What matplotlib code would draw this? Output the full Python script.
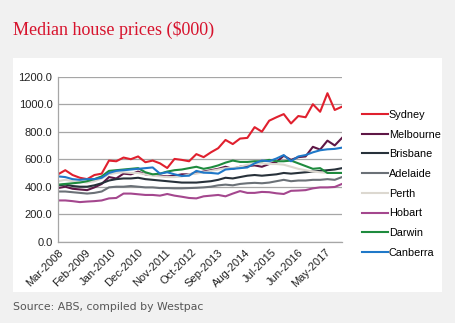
import numpy as np
import matplotlib.pyplot as plt
from matplotlib.patches import Rectangle
from matplotlib.transforms import ScaledTranslation

plt.rcParams['font.family'] = ['Liberation Sans', 'DejaVu Sans']

# quarterly data, Mar-2008 to Dec-2017 ($000)
sydney = [490, 520, 485, 465, 455, 485, 495, 590, 585, 612, 600, 620, 578, 590, 570, 536,
          602, 595, 585, 637, 615, 650, 680, 740, 710, 750, 755, 833, 800, 880, 905, 928,
          860, 914, 905, 1000, 945, 1080, 958, 982]
melbourne = [390, 400, 385, 380, 375, 395, 420, 470, 460, 495, 490, 510, 490, 485, 480, 475,
             480, 490, 490, 500, 510, 520, 530, 545, 530, 545, 550, 555, 545, 565, 580, 625,
             595, 615, 620, 690, 670, 735, 700, 755]
brisbane = [410, 415, 405, 400, 400, 410, 425, 445, 455, 460, 460, 465, 455, 450, 445, 440,
            435, 430, 430, 430, 435, 440, 450, 465, 460, 470, 480, 485, 480, 485, 490, 500,
            495, 500, 505, 510, 515, 520, 525, 535]
adelaide = [365, 365, 360, 355, 350, 355, 365, 395, 400, 400, 405, 400, 395, 395, 390, 390,
            388, 388, 390, 392, 395, 400, 410, 415, 410, 420, 425, 428, 425, 430, 440, 450,
            440, 445, 445, 450, 450, 455, 450, 470]
perth = [440, 450, 440, 435, 430, 440, 460, 490, 500, 505, 500, 500, 490, 480, 475, 470,
         470, 475, 490, 495, 505, 515, 525, 535, 535, 545, 560, 565, 570, 565, 565, 560,
         545, 530, 520, 510, 505, 500, 500, 500]
hobart = [300, 300, 295, 288, 292, 295, 300, 315, 318, 350, 350, 345, 340, 340, 335, 347,
          335, 327, 318, 315, 330, 335, 340, 330, 350, 368, 355, 355, 362, 360, 352, 347,
          370, 372, 375, 388, 395, 395, 398, 420]
darwin = [415, 420, 425, 430, 440, 455, 475, 515, 520, 525, 530, 535, 505, 490, 495, 510,
          520, 525, 535, 545, 530, 540, 555, 575, 590, 580, 580, 585, 585, 595, 585, 585,
          590, 570, 550, 530, 535, 500, 500, 500]
canberra = [475, 470, 455, 450, 455, 455, 465, 500, 515, 520, 525, 530, 535, 540, 495, 505,
            490, 478, 480, 515, 502, 500, 495, 525, 530, 535, 540, 570, 590, 585, 605, 630,
            585, 620, 630, 650, 665, 672, 675, 684]

tick_labels = ["Mar-2008", "Feb-2009", "Jan-2010", "Dec-2010", "Nov-2011", "Oct-2012",
               "Sep-2013", "Aug-2014", "Jul-2015", "Jun-2016", "May-2017"]

series = [("Sydney", sydney, "#e0202e"),
          ("Melbourne", melbourne, "#5e1746"),
          ("Brisbane", brisbane, "#27313a"),
          ("Adelaide", adelaide, "#6b7177"),
          ("Perth", perth, "#dcd8d0"),
          ("Hobart", hobart, "#a4478e"),
          ("Darwin", darwin, "#1e8b3e"),
          ("Canberra", canberra, "#1f78c8")]

months = np.arange(len(sydney)) * 3  # months since Mar-2008

fig = plt.figure(figsize=(4.56, 3.23), dpi=100, facecolor="#f1f1f1")
fig.patches.append(Rectangle((13 / 456, 1 - 292 / 323), 429 / 456, 234 / 323,
                             transform=fig.transFigure, facecolor="white",
                             edgecolor="none", zorder=-5))

ax = fig.add_axes([58 / 456, 1 - 241.7 / 323, 284 / 456, 165 / 323])
ax.set_zorder(2)
ax.set_facecolor("white")

for name, vals, col in series:
    ax.plot(months, vals, color=col, lw=1.5, label=name)

ax.set_xlim(0, months[-1])
ax.set_ylim(0, 1200)
ax.set_yticks(np.arange(0, 1201, 200))
ax.set_yticklabels([f"{v:.1f}" for v in np.arange(0, 1201, 200)], fontsize=8)
ax.set_xticks(np.arange(len(tick_labels)) * 11)
ax.set_xticklabels(tick_labels, rotation=45, ha="right", va="top",
                   rotation_mode="anchor", fontsize=8)
shift = ScaledTranslation(8 / 100, 0, fig.dpi_scale_trans)
for lbl in ax.get_xticklabels():
    lbl.set_transform(lbl.get_transform() + shift)
ax.tick_params(axis="both", length=0, pad=4, colors="#222222")
ax.grid(axis="y", color="#a6a6a6", lw=0.9)
ax.set_axisbelow(True)
for s in ["top", "right"]:
    ax.spines[s].set_visible(False)
for s in ["left", "bottom"]:
    ax.spines[s].set_color("#a6a6a6")
    ax.spines[s].set_linewidth(0.9)

fig.legend(loc="upper left", bbox_to_anchor=(352 / 456, 1 - 100 / 323), frameon=False,
           fontsize=7.8, handlelength=2.4, handletextpad=0.1, labelspacing=0.9)

fig.text(13 / 456, 1 - 30 / 323, "Median house prices ($000)", color="#d7132d",
         fontsize=13, family="Liberation Serif", va="center")
fig.text(13 / 456, 1 - 307 / 323, "Source: ABS, compiled by Westpac", color="#555555",
         fontsize=7.8, family="DejaVu Sans", va="center")

fig.savefig("out.png", dpi=100, facecolor=fig.get_facecolor())
